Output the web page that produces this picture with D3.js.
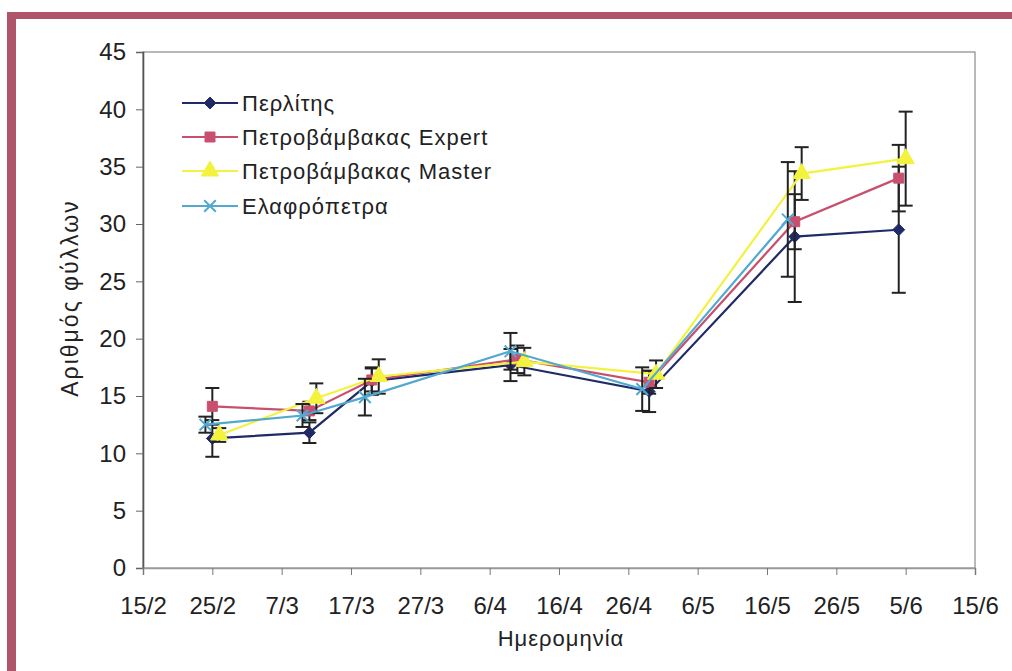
<!DOCTYPE html>
<html>
<head>
<meta charset="utf-8">
<script src="https://cdn.jsdelivr.net/npm/d3@7"></script>
<style>
  html, body { margin: 0; padding: 0; background: #fff; }
  svg { display: block; font-family: "Liberation Sans", Arial, sans-serif; }
</style>
</head>
<body>
<svg id="chart" width="1012" height="671"></svg>
<script>
// ---- Data ----
const seriesNames = ["Περλίτης", "Πετροβάμβακας Expert", "Πετροβάμβακας Master", "Ελαφρόπετρα"];

const perliteDates = ["2007-02-25", "2007-03-11", "2007-03-20", "2007-04-09", "2007-04-29", "2007-05-20", "2007-06-04"];
const perliteValues = [11.3, 11.8, 16.3, 17.7, 15.4, 28.9, 29.5];
const perliteErrors = [1.6, 0.9, 1.2, 1.4, 1.8, 5.7, 5.5];

const expertDates = ["2007-02-25", "2007-03-11", "2007-03-20", "2007-04-10", "2007-04-29", "2007-05-20", "2007-06-04"];
const expertValues = [14.1, 13.7, 16.4, 18.2, 16.2, 30.2, 34.0];
const expertErrors = [1.6, 0.8, 1.0, 1.2, 1.0, 2.4, 2.9];

const masterDates = ["2007-02-26", "2007-03-12", "2007-03-21", "2007-04-11", "2007-04-30", "2007-05-21", "2007-06-05"];
const masterValues = [11.6, 14.8, 16.7, 18.0, 16.9, 34.4, 35.7];
const masterErrors = [0.6, 1.3, 1.5, 1.2, 1.2, 2.3, 4.1];

const elafroDates = ["2007-02-24", "2007-03-10", "2007-03-19", "2007-04-09", "2007-04-28", "2007-05-19"];
const elafroValues = [12.5, 13.3, 14.9, 18.9, 15.6, 30.4];
const elafroErrors = [0.7, 1.0, 1.6, 1.6, 1.9, 5.0];

const xTickLabels = ["15/2", "25/2", "7/3", "17/3", "27/3", "6/4", "16/4", "26/4", "6/5", "16/5", "26/5", "5/6", "15/6"];
const yTicks = [0, 5, 10, 15, 20, 25, 30, 35, 40, 45];

// ---- Setup ----
const parse = d3.timeParse("%Y-%m-%d");
const svg = d3.select("#chart");

const colors = ["#1f2a66", "#c8506e", "#f3f23e", "#52a9d0"];
const markers = ["diamond", "square", "triangle", "cross"];

const series = [
  {dates: perliteDates, values: perliteValues, errors: perliteErrors},
  {dates: expertDates, values: expertValues, errors: expertErrors},
  {dates: masterDates, values: masterValues, errors: masterErrors},
  {dates: elafroDates, values: elafroValues, errors: elafroErrors}
].map((s, i) => ({
  name: seriesNames[i], color: colors[i], marker: markers[i],
  points: s.dates.map((d, j) => ({date: parse(d), value: s.values[j], err: s.errors[j]}))
}));

const x = d3.scaleTime()
  .domain([parse("2007-02-15"), parse("2007-06-15")])
  .range([143, 975]);
const y = d3.scaleLinear().domain([0, 45]).range([568, 52]);

// page frame
svg.append("rect").attr("x", 7).attr("y", 12).attr("width", 1005).attr("height", 7).attr("fill", "#b0546a");
svg.append("rect").attr("x", 7).attr("y", 12).attr("width", 9).attr("height", 659).attr("fill", "#b0546a");

// plot area border
svg.append("rect")
  .attr("x", 143).attr("y", 52).attr("width", 832).attr("height", 516)
  .attr("fill", "none").attr("stroke", "#8a8a8a").attr("stroke-width", 1.2);

// y axis
const yAxis = d3.axisLeft(y).tickValues(yTicks).tickSize(7).tickPadding(10);
const gy = svg.append("g").attr("transform", "translate(143,0)").call(yAxis);
gy.select(".domain").attr("stroke", "#555").attr("stroke-width", 1.6);
gy.selectAll(".tick line").attr("stroke", "#666");
gy.selectAll(".tick text").attr("font-size", 24).attr("fill", "#222")
  .attr("font-family", "Liberation Sans, Arial, sans-serif");

// x axis
const xTickDates = xTickLabels.map((_, i) => d3.timeDay.offset(parse("2007-02-15"), i * 10));
const xAxis = d3.axisBottom(x).tickValues(xTickDates)
  .tickFormat((d, i) => xTickLabels[i]).tickSize(7).tickPadding(22);
const gx = svg.append("g").attr("transform", "translate(0,568)").call(xAxis);
gx.select(".domain").attr("stroke", "#999").attr("stroke-width", 1.6);
gx.selectAll(".tick line").attr("stroke", "#777");
gx.selectAll(".tick text").attr("font-size", 24).attr("fill", "#222")
  .attr("font-family", "Liberation Sans, Arial, sans-serif");

// axis titles
svg.append("text").attr("x", 561).attr("y", 646).attr("text-anchor", "middle")
  .attr("font-size", 22).attr("letter-spacing", 1).attr("fill", "#222").text("Ημερομηνία");
svg.append("text").attr("transform", "translate(78,298) rotate(-90)").attr("text-anchor", "middle")
  .attr("font-size", 23).attr("letter-spacing", 2).attr("fill", "#222").text("Αριθμός φύλλων");

// marker drawing
function drawMarker(g, type, color, cx, cy) {
  if (type === "diamond") {
    g.append("path").attr("d", d3.symbol(d3.symbolDiamond2, 90)()).attr("transform", `translate(${cx},${cy})`)
      .attr("fill", color).attr("stroke", color);
  } else if (type === "square") {
    g.append("path").attr("d", d3.symbol(d3.symbolSquare, 100)()).attr("transform", `translate(${cx},${cy})`)
      .attr("fill", color).attr("stroke", color);
  } else if (type === "triangle") {
    g.append("path").attr("d", d3.symbol(d3.symbolTriangle, 130)()).attr("transform", `translate(${cx},${cy})`)
      .attr("fill", color).attr("stroke", color);
  } else {
    g.append("path").attr("d", d3.symbol(d3.symbolTimes, 90)()).attr("transform", `translate(${cx},${cy})`)
      .attr("fill", "none").attr("stroke", color).attr("stroke-width", 2);
  }
}

const line = d3.line().x(d => x(d.date)).y(d => y(d.value));

series.forEach(s => {
  const g = svg.append("g");
  g.append("path").datum(s.points).attr("d", line)
    .attr("fill", "none").attr("stroke", s.color).attr("stroke-width", 2.2);
  s.points.forEach(p => {
    const cx = x(p.date);
    const y1 = y(p.value + p.err), y2 = y(p.value - p.err);
    g.append("line").attr("x1", cx).attr("x2", cx).attr("y1", y1).attr("y2", y2)
      .attr("stroke", "#222").attr("stroke-width", 2);
    [y1, y2].forEach(yy => g.append("line").attr("x1", cx - 7).attr("x2", cx + 7)
      .attr("y1", yy).attr("y2", yy).attr("stroke", "#222").attr("stroke-width", 2));
  });
  s.points.forEach(p => drawMarker(g, s.marker, s.color, x(p.date), y(p.value)));
});

// legend
const legendRows = [103, 137, 171, 206];
series.forEach((s, i) => {
  const g = svg.append("g");
  const ly = legendRows[i];
  g.append("line").attr("x1", 182).attr("x2", 238).attr("y1", ly).attr("y2", ly)
    .attr("stroke", s.color).attr("stroke-width", 2.2);
  drawMarker(g, s.marker, s.color, 210, ly);
  g.append("text").attr("x", 242).attr("y", ly + 8).attr("font-size", 22)
    .attr("letter-spacing", 1).attr("fill", "#222").text(s.name);
});
</script>
</body>
</html>
